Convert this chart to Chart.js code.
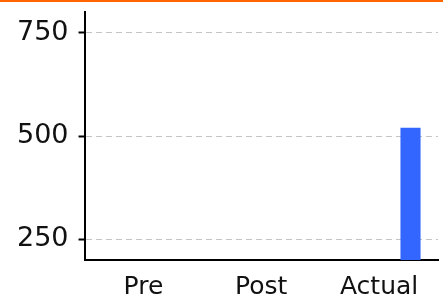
<!DOCTYPE html>
<html>
<head>
<meta charset="utf-8">
<script src="https://cdn.jsdelivr.net/npm/chart.js@4/dist/chart.umd.min.js"></script>
<style>
  html, body { margin: 0; padding: 0; background: #fff; overflow: hidden; }
  body { position: relative; width: 443px; height: 303px; }
  #topline { position: absolute; left: 0; top: 0; width: 443px; height: 2px; background: #ff6600; z-index: 2; }
  #c { position: absolute; left: 0; top: -14px; }
</style>
</head>
<body>
<div id="topline"></div>
<canvas id="c" width="443" height="330"></canvas>
<script>
const categories = ["Pre", "Post", "Actual"];
const preValues = [null, null, null];
const postValues = [null, null, null];
const actualValues = [null, null, 520];
const yTickValues = [250, 500, 750];

Chart.defaults.font.family = "'DejaVu Sans', sans-serif";
Chart.defaults.color = "#111";

new Chart(document.getElementById("c"), {
  type: "bar",
  data: {
    labels: categories,
    datasets: [
      { label: "Pre", data: preValues, backgroundColor: "#3366ff" },
      { label: "Post", data: postValues, backgroundColor: "#3366ff" },
      { label: "Actual", data: actualValues, backgroundColor: "#3366ff" }
    ]
  },
  options: {
    responsive: false,
    animation: false,
    layout: { padding: { top: 0, right: 5, left: 7, bottom: 2 } },
    plugins: { legend: { display: false }, tooltip: { enabled: false } },
    datasets: { bar: { categoryPercentage: 0.8, barPercentage: 0.64 } },
    scales: {
      x: {
        grid: { display: false, drawTicks: false },
        border: { color: "#000", width: 2 },
        ticks: { font: { size: 25 }, padding: 12, color: "#111" }
      },
      y: {
        min: 200,
        max: 800,
        afterBuildTicks: (scale) => { scale.ticks = yTickValues.map(v => ({ value: v })); },
        grid: {
          color: "#c4c4c4",
          lineWidth: 1,
          drawTicks: true,
          tickLength: 6,
          tickColor: "#000",
          tickBorderDash: [],
          tickWidth: 2
        },
        border: { color: "#000", width: 2, dash: [6, 4] },
        ticks: { font: { size: 27 }, padding: 10, color: "#111" }
      }
    }
  }
});
</script>
</body>
</html>
